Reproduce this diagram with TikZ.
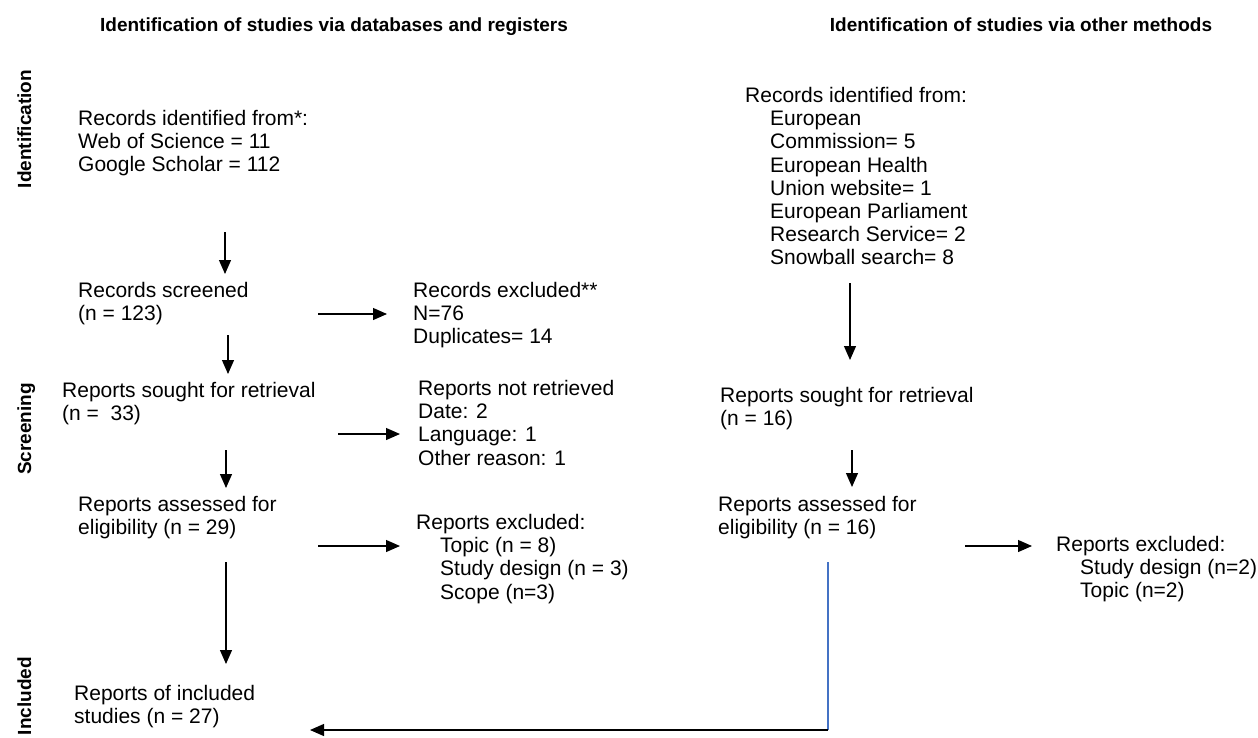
\documentclass[tikz,border=0pt]{standalone}
\usepackage{fontspec}
\setmainfont{Liberation Sans}
\usetikzlibrary{arrows.meta}
\definecolor{linkblue}{HTML}{4472C4}
\begin{document}
\begin{tikzpicture}[x=1pt,y=-1pt,
  txt/.style={anchor=north west, inner sep=0pt, align=left, font=\fontsize{21}{23.2}\selectfont},
  hdr/.style={anchor=base, inner sep=0pt, font=\fontsize{19}{22}\selectfont\bfseries},
  side/.style={anchor=base, rotate=90, inner sep=0pt, font=\fontsize{19}{22}\selectfont\bfseries},
  arr/.style={-{Triangle[length=14pt,width=12pt]}, line width=1.2pt, black},
  bline/.style={line width=1.4pt, linkblue}]
\useasboundingbox (0,0) rectangle (1258,737);
\clip (0,0) rectangle (1258,737);

% headers
\node[hdr] (h1) at (334,31) {Identification of studies via databases and registers};
\node[hdr] (h2) at (1021,31) {Identification of studies via other methods};

% side labels
\node[side] (s1) at (31,129) {Identification};
\node[side] (s2) at (31,429) {Screening};
\node[side] (s3) at (31,696) {Included};

% left column
\node[txt] (id1) at (78,110) {Records identified from*:\\Web of Science = 11\\Google Scholar = 112};
\node[txt] (scr) at (78,282) {Records screened\\(n = 123)};
\node[txt] (exc1) at (413,282) {Records excluded**\\N=76\\Duplicates= 14};
\node[txt] (sought) at (62,382) {Reports sought for retrieval\\(n = \ 33)};
\node[txt] (notret) at (418,380) {Reports not retrieved\\Date: 2\\Language: 1\\Other reason: 1};
\node[txt] (assess) at (78,496) {Reports assessed for\\eligibility (n = 29)};
\node[txt] (exc2) at (416,514) {Reports excluded:\\\hspace*{24pt}Topic (n = 8)\\\hspace*{24pt}Study design (n = 3)\\\hspace*{24pt}Scope (n=3)};
\node[txt] (incl) at (74,685) {Reports of included\\studies (n = 27)};

% right column
\node[txt] (oth) at (745,87) {Records identified from:\\\hspace*{25pt}European\\\hspace*{25pt}Commission= 5\\\hspace*{25pt}European Health\\\hspace*{25pt}Union website= 1\\\hspace*{25pt}European Parliament\\\hspace*{25pt}Research Service= 2\\\hspace*{25pt}Snowball search= 8};
\node[txt] (sought2) at (720,387) {Reports sought for retrieval\\(n = 16)};
\node[txt] (assess2) at (718,496) {Reports assessed for\\eligibility (n = 16)};
\node[txt] (exc3) at (1056,536) {Reports excluded:\\\hspace*{24pt}Study design (n=2)\\\hspace*{24pt}Topic (n=2)};

% connector end points
\coordinate (a1s) at (225,232); \coordinate (a1e) at (225,274);
\coordinate (b1s) at (318,314); \coordinate (b1e) at (387,314);
\coordinate (a2s) at (228,335); \coordinate (a2e) at (228,374);
\coordinate (b2s) at (338,434); \coordinate (b2e) at (400,434);
\coordinate (a3s) at (226,450); \coordinate (a3e) at (226,488);
\coordinate (b3s) at (318,546); \coordinate (b3e) at (400,546);
\coordinate (a4s) at (226,562); \coordinate (a4e) at (226,664);
\coordinate (r1s) at (850,283); \coordinate (r1e) at (850,360);
\coordinate (r2s) at (852,450); \coordinate (r2e) at (852,487);
\coordinate (r3s) at (965,546); \coordinate (r3e) at (1032,546);
\coordinate (ms) at (828,562); \coordinate (mc) at (828,730); \coordinate (me) at (310,730);

\draw[arr] (a1s) -- (a1e);
\draw[arr] (b1s) -- (b1e);
\draw[arr] (a2s) -- (a2e);
\draw[arr] (b2s) -- (b2e);
\draw[arr] (a3s) -- (a3e);
\draw[arr] (b3s) -- (b3e);
\draw[arr] (a4s) -- (a4e);
\draw[arr] (r1s) -- (r1e);
\draw[arr] (r2s) -- (r2e);
\draw[arr] (r3s) -- (r3e);
\draw[bline] (ms) -- (mc);
\draw[arr] (mc) -- (me);
\end{tikzpicture}
\end{document}
